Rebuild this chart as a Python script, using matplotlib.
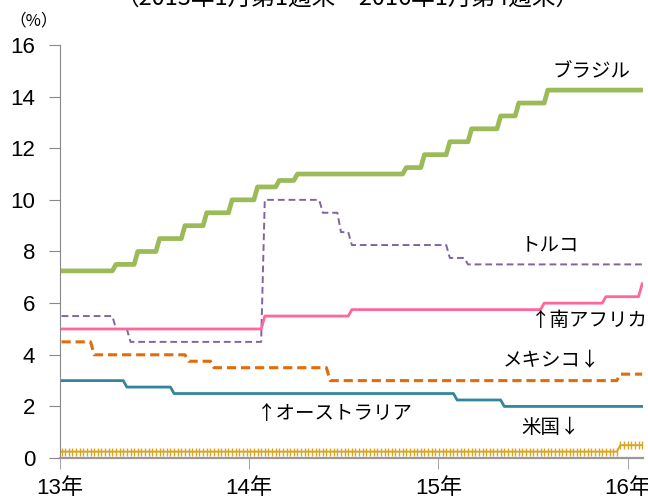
import pandas as pd
import matplotlib
matplotlib.use('Agg')
import matplotlib.pyplot as plt

plt.rcParams['font.family'] = ['Liberation Sans', 'Noto Sans CJK JP', 'DejaVu Sans']

# Policy rate change schedule (date of change, new rate %)
brazil_dates = ['2013-01-04', '2013-04-19', '2013-05-31', '2013-07-12', '2013-08-30', '2013-10-11',
                '2013-11-29', '2014-01-17', '2014-02-28', '2014-04-04', '2014-10-31', '2014-12-05',
                '2015-01-23', '2015-03-06', '2015-05-01', '2015-06-05', '2015-07-31']
brazil_rates = [7.25, 7.5, 8.0, 8.5, 9.0, 9.5, 10.0, 10.5, 10.75, 11.0, 11.25, 11.75,
                12.25, 12.75, 13.25, 13.75, 14.25]

turkey_dates = ['2013-01-04', '2013-04-19', '2013-05-17', '2014-01-31', '2014-05-23',
                '2014-06-27', '2014-07-18', '2015-01-23', '2015-02-27']
turkey_rates = [5.5, 5.0, 4.5, 10.0, 9.5, 8.75, 8.25, 7.75, 7.5]

safrica_dates = ['2013-01-04', '2014-01-31', '2014-07-18', '2015-07-24', '2015-11-20', '2016-01-29']
safrica_rates = [5.0, 5.5, 5.75, 6.0, 6.25, 6.75]

mexico_dates = ['2013-01-04', '2013-03-08', '2013-09-06', '2013-10-25', '2014-06-06', '2015-12-18']
mexico_rates = [4.5, 4.0, 3.75, 3.5, 3.0, 3.25]

australia_dates = ['2013-01-04', '2013-05-10', '2013-08-09', '2015-02-06', '2015-05-08']
australia_rates = [3.0, 2.75, 2.5, 2.25, 2.0]

us_dates = ['2013-01-04', '2015-12-18']
us_rates = [0.25, 0.5]

weeks = pd.date_range('2013-01-04', '2016-01-29', freq='W-FRI')


def weekly(dates, rates):
    s = pd.Series(rates, index=pd.to_datetime(dates))
    return s.reindex(weeks, method='ffill')


fig = plt.figure(figsize=(6.48, 4.99), dpi=100)
ax = fig.add_axes([0.0926, 0.082, 0.9, 0.828])

ax.plot(weeks, weekly(brazil_dates, brazil_rates), color='#9BBB59', lw=3.4)
ax.plot(weeks, weekly(turkey_dates, turkey_rates), color='#8064A2', lw=1.4, dashes=(3.5, 2))
ax.plot(weeks, weekly(safrica_dates, safrica_rates), color='#FF6699', lw=2.0)
ax.plot(weeks, weekly(mexico_dates, mexico_rates), color='#E36C09', lw=2.2, dashes=(3, 1.6))
ax.plot(weeks, weekly(australia_dates, australia_rates), color='#31859C', lw=2.0)
ax.plot(weeks, weekly(us_dates, us_rates), color='#DAA520', lw=1.4,
        marker='|', ms=6, mew=1.0)

ax.set_xlim(pd.Timestamp('2013-01-01'), pd.Timestamp('2016-01-31'))
ax.set_ylim(0, 16)
ax.set_yticks(range(0, 17, 2))
ax.set_xticks(pd.to_datetime(['2013-01-01', '2014-01-01', '2015-01-01', '2016-01-01']))
ax.set_xticklabels(['13年', '14年', '15年', '16年'])

for side in ['top', 'right']:
    ax.spines[side].set_visible(False)
ax.spines['left'].set_color('#888888')
ax.spines['bottom'].set_color('#999999')
ax.spines['bottom'].set_linewidth(1.6)
ax.tick_params(axis='y', length=8, color='#888888', labelsize=16, pad=10)
ax.tick_params(axis='x', length=8, color='#AAAAAA', labelsize=16, pad=6)

jp = dict(family=['Noto Sans CJK JP', 'DejaVu Sans'], fontsize=14, ha='center', va='center',
          transform=ax.transAxes)
ax.text(0.912, 0.935, 'ブラジル', **jp)
ax.text(0.84, 0.516, 'トルコ', **jp)
ax.text(0.908, 0.334, '↑南アフリカ', clip_on=False, **jp)
ax.text(0.842, 0.237, 'メキシコ↓', **jp)
ax.text(0.472, 0.109, '↑オーストラリア', **jp)
ax.text(0.842, 0.073, '米国↓', **jp)

fig.text(0.015, 0.958, '（%）', fontsize=12, ha='left', va='center',
         family=['Noto Sans CJK JP', 'DejaVu Sans'])
fig.text(0.537, 1.004, '（2013年1月第1週末～2016年1月第4週末）', fontsize=17, ha='center',
         va='center', family=['Noto Sans CJK JP', 'DejaVu Sans'])
fig.text(0.006, 0.028, '）', fontsize=14, ha='right', va='center',
         family=['Noto Sans CJK JP', 'DejaVu Sans'])

fig.savefig('out.png', dpi=100)
